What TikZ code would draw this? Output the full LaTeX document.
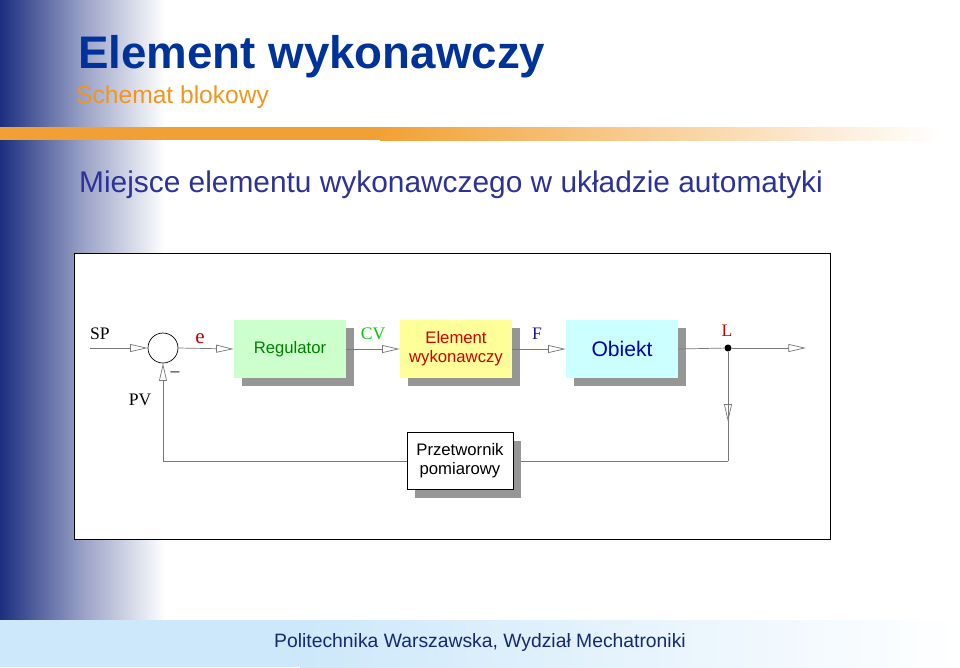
\documentclass[tikz,border=0pt]{standalone}
\usepackage{fontspec}
\setmainfont{Liberation Sans}
\newfontfamily\labelfont{Liberation Serif}
\usetikzlibrary{arrows.meta, positioning, shadows, decorations.markings}

\definecolor{barblue}{RGB}{28,46,128}
\definecolor{titleblue}{RGB}{0,51,153}
\definecolor{subor}{RGB}{240,150,30}
\definecolor{headblue}{RGB}{45,50,150}
\definecolor{footblue}{RGB}{20,40,120}
\definecolor{footband}{RGB}{205,232,250}
\definecolor{regfill}{RGB}{204,255,204}
\definecolor{elfill}{RGB}{255,255,153}
\definecolor{obfill}{RGB}{204,255,255}
\definecolor{shadowgray}{RGB}{150,150,150}
\definecolor{wiregray}{RGB}{120,120,120}

\begin{document}
\begin{tikzpicture}[
    x=0.02cm, y=-0.02cm,
    block/.style = {rectangle, minimum width=2.24cm, minimum height=1.16cm, align=center,
                    font=\fontsize{9.5}{11}\selectfont, inner sep=1pt,
                    drop shadow={shadow xshift=0.16cm, shadow yshift=-0.16cm, fill=shadowgray, opacity=1}},
    sig/.style = {font=\labelfont\fontsize{10}{12}\selectfont},
    wire/.style = {draw=wiregray, thin},
    arrow/.style = {wire, -{Triangle[open, length=10pt, width=4.5pt]}},
    midarrow/.style = {wire, postaction={decorate}, decoration={markings,
                       mark=at position #1 with {\arrow{Triangle[open, length=10pt, width=4.5pt]}}}}
]
\useasboundingbox (0,0) rectangle (960,667);

% Slide background
\shade[left color=barblue, right color=white, middle color=barblue!45!white] (0,0) rectangle (165,620);
\fill[footband] (0,620) rectangle (300,667);
\shade[left color=footband, right color=white] (300,620) rectangle (960,667);
\fill[subor!90] (0,127) rectangle (380,140);
\shade[left color=subor!90, right color=white] (380,127) rectangle (940,140);

% Titles
\node (title) [anchor=west, text=titleblue, font=\fontsize{26}{30}\bfseries,
               drop shadow={shadow xshift=0.05cm, shadow yshift=-0.05cm, fill=none}] at (72,57) {Element wykonawczy};
\node (subtitle) [anchor=west, text=subor, font=\fontsize{14}{16}\selectfont] at (70,97) {Schemat blokowy};
\node (heading) [anchor=west, text=headblue, font=\fontsize{17}{20}\selectfont] at (73,185) {Miejsce elementu wykonawczego w układzie automatyki};
\node (footer) [text=footblue, font=\fontsize{11}{13}\selectfont] at (480,642) {Politechnika Warszawska, Wydział Mechatroniki};

% Frame
\draw[black, fill=white] (74,253) rectangle (830,539);

% Blocks
\node (sum) [circle, draw=black, minimum size=0.6cm, inner sep=0pt] at (163,348) {};
\node (reg) [block, fill=regfill, text={rgb,255:red,0;green,128;blue,0}] at (290,349) {Regulator};
\node (elem) [block, fill=elfill, text={rgb,255:red,204;green,0;blue,0}] at (456,349) {Element\\wykonawczy};
\node (obj) [block, fill=obfill, text={rgb,255:red,0;green,0;blue,180}, font=\fontsize{12}{14}\selectfont] at (622,349) {Obiekt};
\coordinate (sp) at (90,348);
\coordinate (out) at (806,348);
\node (tap) [circle, fill=black, inner sep=0pt, minimum size=4pt] at (728,348) {};
\coordinate (bend) at (728,461);

% Signal lines
\draw[arrow] (sp) -- (sum.west);
\draw[arrow] (sum.east) -- (reg.west);
\draw[arrow] (reg.east) -- (elem.west);
\draw[arrow] (elem.east) -- (obj.west);
\draw[wire] (obj.east) -- (tap);
\draw[arrow] (tap) -- (out);
\draw[midarrow=0.64] (tap) -- (bend);
\draw[arrow] (bend) -| (sum.south);

\node (sensor) [block, fill=white, draw=black, minimum width=2.12cm, minimum height=1.14cm] at (460,461) {Przetwornik\\pomiarowy};

% Signal labels
\node[sig] at (100,334) {SP};
\node[sig, text={rgb,255:red,204;green,0;blue,0}, font=\labelfont\fontsize{12}{14}\selectfont] at (200,339) {e};
\node[sig, text={rgb,255:red,0;green,200;blue,0}] at (373,334) {CV};
\node[sig, text={rgb,255:red,20;green,20;blue,170}] at (537,334) {F};
\node[sig, text={rgb,255:red,204;green,0;blue,0}] at (727,331) {L};
\node[sig] at (140,400) {PV};
\node[sig] at (175,374) {–};
\end{tikzpicture}
\end{document}
